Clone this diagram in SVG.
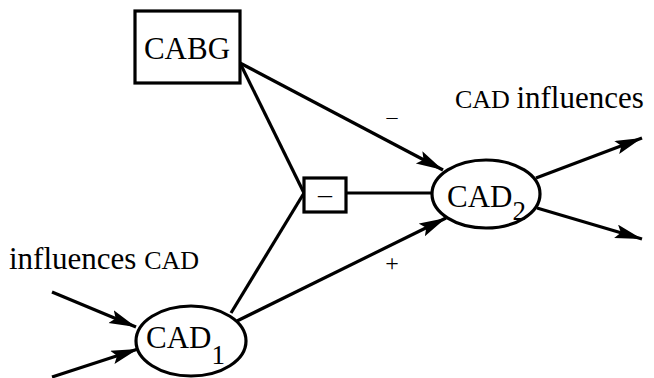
<svg xmlns="http://www.w3.org/2000/svg" width="654" height="378" viewBox="0 0 654 378">
<defs>
<style>
.edge{stroke:#000;stroke-width:3.2;fill:none}
.shape{stroke:#000;stroke-width:3.2;fill:#fff}
.t{font-family:"Liberation Serif","Times New Roman","DejaVu Serif",serif;fill:#000}
</style>
<marker id="ah" markerUnits="userSpaceOnUse" markerWidth="30" markerHeight="16" refX="27" refY="7" orient="auto">
<path d="M0,0 L27,7 L0,14 L5,7 z" fill="#000"/>
</marker>
</defs>
<rect width="654" height="378" fill="#fff"/>
<g id="connectors">
<line class="edge" x1="240" y1="63" x2="443" y2="170" marker-end="url(#ah)"/>
<line class="edge" x1="240" y1="63" x2="304" y2="193"/>
<line class="edge" x1="231" y1="313" x2="304" y2="193"/>
<line class="edge" x1="346" y1="193" x2="432" y2="193"/>
<line class="edge" x1="237" y1="321" x2="446" y2="218" marker-end="url(#ah)"/>
<line class="edge" x1="52" y1="292" x2="136" y2="327" marker-end="url(#ah)"/>
<line class="edge" x1="52" y1="377" x2="138" y2="349" marker-end="url(#ah)"/>
<line class="edge" x1="536" y1="178" x2="642" y2="138" marker-end="url(#ah)"/>
<line class="edge" x1="537" y1="208" x2="642" y2="239" marker-end="url(#ah)"/>
<text class="t" x="392" y="124" font-size="22" text-anchor="middle">–</text>
<text class="t" x="392" y="271" font-size="24" text-anchor="middle">+</text>
</g>
<g id="CABG">
<rect class="shape" x="135" y="11" width="105" height="72"/>
<text class="t" x="187" y="59" font-size="31" text-anchor="middle">CABG</text>
</g>
<g id="minus">
<rect class="shape" x="304" y="178" width="42" height="34"/>
<text class="t" x="325" y="203" font-size="28" text-anchor="middle">–</text>
</g>
<g id="CAD2">
<ellipse class="shape" cx="486" cy="194" rx="54" ry="34"/>
<text class="t" x="447" y="207" font-size="31">CAD<tspan font-size="27" dy="13">2</tspan></text>
</g>
<g id="CAD1">
<ellipse class="shape" cx="191" cy="341" rx="55" ry="35"/>
<text class="t" x="146" y="348" font-size="31">CAD<tspan font-size="27" dy="16">1</tspan></text>
</g>
<g id="labels">
<text class="t" x="9" y="269" font-size="31">influences <tspan font-size="26">CAD</tspan></text>
<text class="t" x="455" y="108" font-size="26">CAD <tspan font-size="31">influences</tspan></text>
</g>
</svg>
